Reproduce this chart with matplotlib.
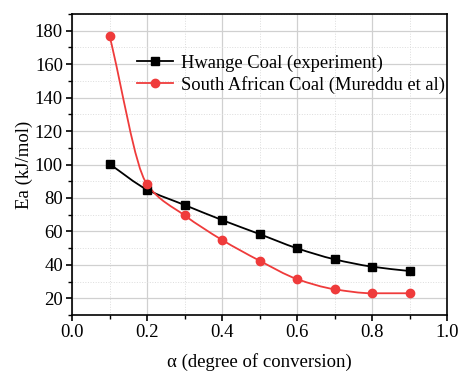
import numpy as np
import matplotlib
matplotlib.use('Agg')
import matplotlib.pyplot as plt
from matplotlib.path import Path
from matplotlib.patches import PathPatch
from matplotlib.lines import Line2D
from matplotlib.ticker import MultipleLocator

# data
alpha = [0.1, 0.2, 0.3, 0.4, 0.5, 0.6, 0.7, 0.8, 0.9]
hwange = [100.3, 85.0, 75.8, 66.8, 58.4, 49.9, 43.3, 38.9, 36.3]
south_africa = [177.0, 88.2, 69.6, 54.9, 42.5, 31.5, 25.4, 23.0, 23.0]

labels = ["Hwange Coal (experiment)", "South African Coal (Mureddu et al)"]
red = '#ef3b3b'

plt.rcParams['font.family'] = ['Liberation Serif', 'DejaVu Serif']


def smooth_path(x, y):
  # monotone cubic (pchip style) through the points, as bezier segments
  x = np.asarray(x, float)
  y = np.asarray(y, float)
  h = np.diff(x)
  d = np.diff(y) / h
  m = np.zeros_like(y)
  for i in range(1, len(x) - 1):
    if d[i - 1] * d[i] > 0:
      w1 = 2 * h[i] + h[i - 1]
      w2 = h[i] + 2 * h[i - 1]
      m[i] = (w1 + w2) / (w1 / d[i - 1] + w2 / d[i])
  m[0] = d[0]
  m[-1] = d[-1]
  verts = [(x[0], y[0])]
  codes = [Path.MOVETO]
  for i in range(len(x) - 1):
    verts += [(x[i] + h[i] / 3, y[i] + m[i] * h[i] / 3),
              (x[i + 1] - h[i] / 3, y[i + 1] - m[i + 1] * h[i] / 3),
              (x[i + 1], y[i + 1])]
    codes += [Path.CURVE4] * 3
  return Path(verts, codes)


fig = plt.figure(figsize=(4.58, 3.73), dpi=100)
ax = fig.add_axes([72 / 458, 1 - 315 / 373, 375 / 458, 301 / 373])

ax.add_patch(PathPatch(smooth_path(alpha, hwange), fill=False, edgecolor='black', lw=1.3, zorder=3))
ax.add_patch(PathPatch(smooth_path(alpha, south_africa), fill=False, edgecolor=red, lw=1.3, zorder=3))
ax.plot(alpha, hwange, linestyle='', marker='s', markersize=5.5, color='black', zorder=4)
ax.plot(alpha, south_africa, linestyle='', marker='o', markersize=6, color=red, zorder=4)

ax.set_xlim(0.0, 1.0)
ax.set_ylim(10, 190)
ax.xaxis.set_major_locator(MultipleLocator(0.2))
ax.xaxis.set_minor_locator(MultipleLocator(0.1))
ax.yaxis.set_major_locator(MultipleLocator(20))
ax.yaxis.set_minor_locator(MultipleLocator(10))
ax.set_xticks(np.arange(0, 1.01, 0.2))
ax.set_xticklabels(['%.1f' % v for v in np.arange(0, 1.01, 0.2)])
ax.set_yticks(np.arange(20, 181, 20))

ax.grid(which='major', color='#d0d0d0', lw=0.9)
ax.grid(which='minor', color='#dcdcdc', lw=0.7, linestyle=':')
ax.set_axisbelow(True)

ax.tick_params(which='major', direction='out', length=4.5, width=1.2, labelsize=13.5, pad=2)
ax.tick_params(which='minor', direction='out', length=3, width=1.0)
for s in ax.spines.values():
  s.set_linewidth(1.2)

ax.set_xlabel('α (degree of conversion)', fontsize=13.5, labelpad=9)
ax.set_ylabel('Ea (kJ/mol)', fontsize=13.5, labelpad=1)

handles = [
  Line2D([], [], color='black', lw=1.3, marker='s', markersize=5.5),
  Line2D([], [], color=red, lw=1.3, marker='o', markersize=6),
]
ax.legend(handles, labels, loc='upper left', bbox_to_anchor=(0.172, 0.865), frameon=False,
          fontsize=13.3, handlelength=2.0, handletextpad=0.4, borderaxespad=0,
          labelspacing=0.2, borderpad=0)

fig.savefig('out.png', dpi=100)
